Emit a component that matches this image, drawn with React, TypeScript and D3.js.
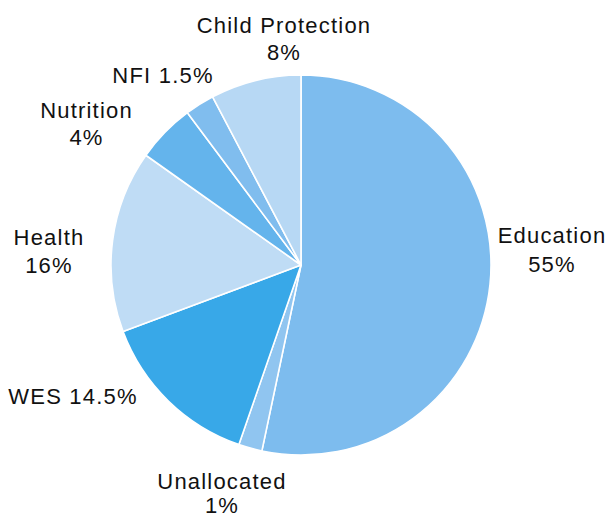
import React from "react";
import * as d3 from "d3";

// Data (shares measured from slice angles; labels as printed)
const categories = ["Education", "Unallocated", "WES", "Health", "Nutrition", "NFI", "Child Protection"];
const shares = [53.3, 2.0, 14.0, 15.5, 5.0, 2.5, 7.7];
const shareLabels = ["55%", "1%", "14.5%", "16%", "4%", "1.5%", "8%"];
const colors = ["#7dbcee", "#90c5f0", "#38a8e8", "#bfdcf5", "#64b4ec", "#80bdee", "#b7d8f4"];

// Label layout: x centre, first baseline, line count, line gap
const labelLayout: Record<string, { x: number; y: number; lines: number; gap: number }> = {
  Education: { x: 552, y: 242.5, lines: 2, gap: 29 },
  Unallocated: { x: 222, y: 488.5, lines: 2, gap: 24 },
  WES: { x: 73, y: 403.5, lines: 1, gap: 0 },
  Health: { x: 49, y: 245, lines: 2, gap: 28.3 },
  Nutrition: { x: 86.5, y: 118.3, lines: 2, gap: 27 },
  NFI: { x: 163, y: 82.7, lines: 1, gap: 0 },
  "Child Protection": { x: 284, y: 33.3, lines: 2, gap: 26.7 },
};

const W = 611;
const H = 514;
const cx = 301;
const cy = 265;
const R = 190;

export default function App() {
  const pie = d3
    .pie<number>()
    .sort(null)
    .value((d) => d)
    .startAngle(0)
    .endAngle(2 * Math.PI);
  const arcs = pie(shares);
  const arc = d3.arc<d3.PieArcDatum<number>>().innerRadius(0).outerRadius(R);

  return (
    <svg
      width={W}
      height={H}
      style={{ position: "absolute", left: 0, top: 0, background: "#fff" }}
      fontFamily="'Liberation Sans', Arial, sans-serif"
    >
      <g transform={`translate(${cx},${cy})`}>
        {arcs.map((a, i) => (
          <path key={categories[i]} d={arc(a) || ""} fill={colors[i]} stroke="#fff" strokeWidth={1.6} strokeLinejoin="round" />
        ))}
      </g>
      {categories.map((c, i) => {
        const L = labelLayout[c];
        const common = {
          textAnchor: "middle" as const,
          fontSize: 22,
          fill: "#111",
          letterSpacing: 1.2,
        };
        if (L.lines === 1) {
          return (
            <text key={c} x={L.x} y={L.y} {...common}>
              {`${c} ${shareLabels[i]}`}
            </text>
          );
        }
        return (
          <g key={c}>
            <text x={L.x} y={L.y} {...common}>
              {c}
            </text>
            <text x={L.x} y={L.y + L.gap} {...common}>
              {shareLabels[i]}
            </text>
          </g>
        );
      })}
    </svg>
  );
}
